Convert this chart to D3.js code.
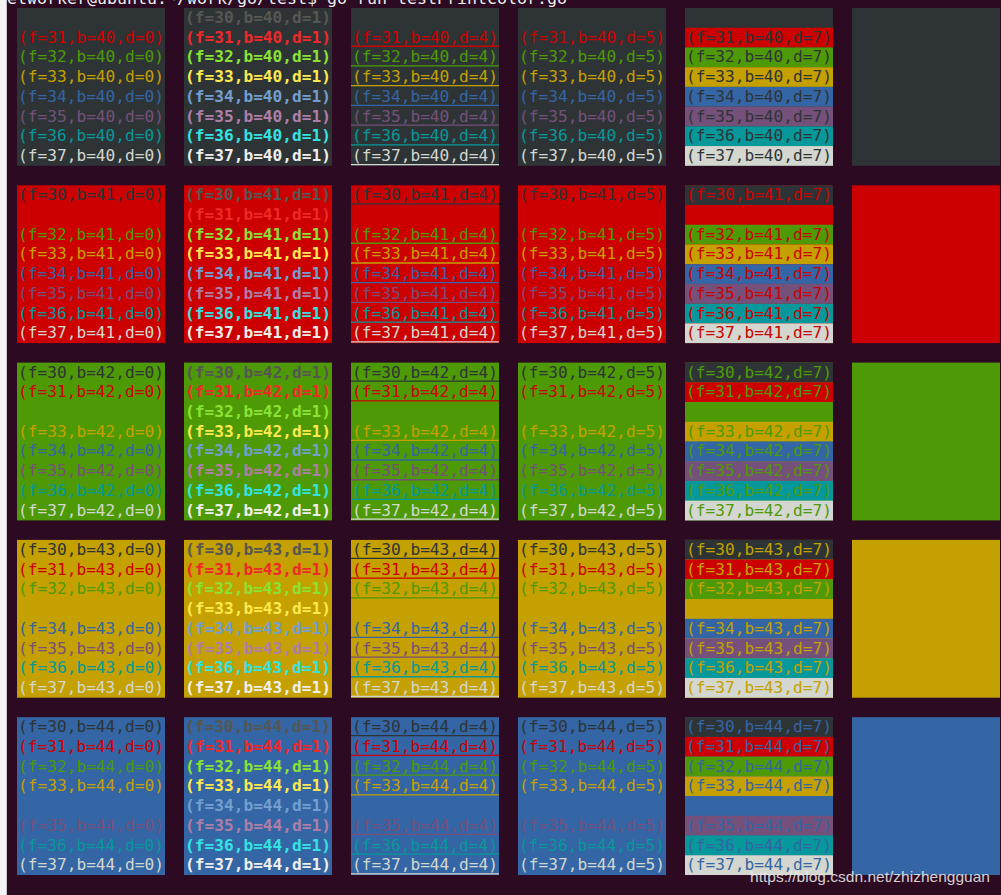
<!DOCTYPE html>
<html>
<head>
<meta charset="utf-8">
<script src="https://cdn.jsdelivr.net/npm/d3@7"></script>
<style>
  body { margin:0; background:#fff; }
  svg { display:block; }
</style>
</head>
<body>
<svg id="term"></svg>
<script>
// terminal colour test: foreground 30-37, background 40-44, mode d
const fgCodes = [30, 31, 32, 33, 34, 35, 36, 37]
const bgCodes = [40, 41, 42, 43, 44]
const modes = [0, 1, 4, 5, 7, 8]
const normalColors = ["#2E3436", "#CC0000", "#4E9A06", "#C4A000", "#3465A4", "#75507B", "#06989A", "#D3D7CF"]
const brightColors = ["#555753", "#EF2929", "#8AE234", "#FCE94F", "#729FCF", "#AD7FA8", "#34E2E2", "#EEEEEC"]
const promptText = "etworker@ubuntu:~/work/go/test$ go run testPrintColor.go"
const watermark = "https://blog.csdn.net/zhizhengguan"

const W = 1001, H = 895
const svg = d3.select("#term").attr("width", W).attr("height", H)

// window frame + terminal background
svg.append("rect").attr("width", W).attr("height", H).attr("fill", "#f4f4f4")
svg.append("rect").attr("x", 7).attr("width", W - 7).attr("height", H).attr("fill", "#2C0A22")
svg.append("line").attr("x1", 6.5).attr("x2", 6.5).attr("y1", 0).attr("y2", H).attr("stroke", "#c8c8c8")

// step 167 / 177.3, gaps 19
const colStep = 167, rowStep = 177.3
const colPad = 19 / colStep, rowPad = 19.5 / rowStep
const x = d3.scaleBand().domain(modes).range([17, 17 + colStep * (modes.length - colPad)]).paddingInner(colPad).paddingOuter(0)
const y = d3.scaleBand().domain(bgCodes).range([8, 8 + rowStep * (bgCodes.length - rowPad)]).paddingInner(rowPad).paddingOuter(0)
const line = d3.scaleBand().domain(fgCodes).range([0, y.bandwidth()])

const font = "'DejaVu Sans Mono', 'Liberation Mono', monospace"

svg.append("text").attr("x", 7).attr("y", 4)
  .attr("fill", "#eeeeec").style("font-family", font).style("font-size", "15px")
  .attr("textLength", 560).attr("lengthAdjust", "spacingAndGlyphs")
  .text(promptText)

bgCodes.forEach((b, bi) => {
  modes.forEach(d => {
    const g = svg.append("g").attr("transform", "translate(" + x(d) + "," + y(b) + ")")
    g.append("rect").attr("width", x.bandwidth()).attr("height", y.bandwidth()).attr("fill", normalColors[bi])
    if (d === 8) return
    fgCodes.forEach((f, fi) => {
      let txt = d === 1 ? brightColors[fi] : normalColors[fi]
      let bgc = normalColors[bi]
      if (d === 7) { const t = txt; txt = bgc; bgc = t }
      const ly = line(f)
      if (d === 7) g.append("rect").attr("y", ly).attr("width", x.bandwidth()).attr("height", line.bandwidth()).attr("fill", bgc)
      g.append("text").attr("x", 1).attr("y", ly + 15)
        .attr("fill", txt).style("font-family", font).style("font-size", "15.5px")
        .style("font-weight", d === 1 ? "bold" : "normal")
        .attr("textLength", 146).attr("lengthAdjust", "spacingAndGlyphs")
        .text("(f=" + f + ",b=" + b + ",d=" + d + ")")
      if (d === 4) g.append("line").attr("x1", 0).attr("x2", x.bandwidth())
        .attr("y1", ly + 18.5).attr("y2", ly + 18.5).attr("stroke", txt).attr("stroke-width", 1.3)
    })
  })
})

svg.append("text").attr("x", 990).attr("y", 882).attr("text-anchor", "end")
  .attr("fill", "#f0f0f0").attr("opacity", 0.85)
  .style("font-family", "'Liberation Sans Narrow', 'Liberation Sans', sans-serif").style("font-size", "15px")
  .attr("textLength", 240).attr("lengthAdjust", "spacingAndGlyphs")
  .text(watermark)
</script>
</body>
</html>
